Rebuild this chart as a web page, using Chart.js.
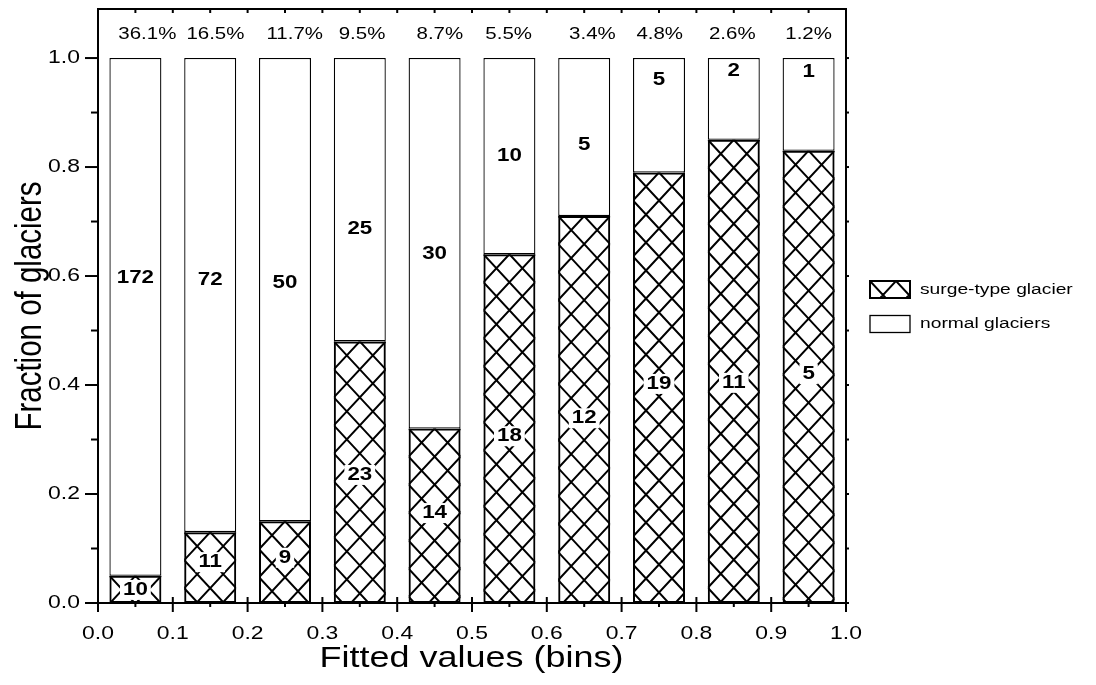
<!DOCTYPE html>
<html>
<head>
<meta charset="utf-8">
<title>Fraction of surge-type glaciers by fitted value</title>
<script src="https://cdn.jsdelivr.net/npm/chart.js@4.4.1/dist/chart.umd.min.js"></script>
<style>
  html, body { margin: 0; padding: 0; background: #fff; }
  #wrap { width: 1096px; height: 685px; }
</style>
</head>
<body>
<div id="wrap"><canvas id="chart" width="1096" height="685"></canvas></div>
<script>
// ---- data ----
const binCenters     = [0.05, 0.15, 0.25, 0.35, 0.45, 0.55, 0.65, 0.75, 0.85, 0.95];
const surgeFraction  = [0.05, 0.13, 0.15, 0.48, 0.32, 0.64, 0.71, 0.79, 0.85, 0.83];
const normalFraction = [0.95, 0.87, 0.85, 0.52, 0.68, 0.36, 0.29, 0.21, 0.15, 0.17];
const surgeCount     = [10, 11, 9, 23, 14, 18, 12, 19, 11, 5];
const normalCount    = [172, 72, 50, 25, 30, 10, 5, 5, 2, 1];
const binShare       = ['36.1%', '16.5%', '11.7%', '9.5%', '8.7%', '5.5%', '3.4%', '4.8%', '2.6%', '1.2%'];
const xTickValues    = [0.0, 0.1, 0.2, 0.3, 0.4, 0.5, 0.6, 0.7, 0.8, 0.9, 1.0];
const xMinorValues   = [0.05, 0.15, 0.25, 0.35, 0.45, 0.55, 0.65, 0.75, 0.85, 0.95];
const yTickValues    = [0.0, 0.2, 0.4, 0.6, 0.8, 1.0];
const yMinorValues   = [0.1, 0.3, 0.5, 0.7, 0.9];

// ---- label placement (axis units) ----
const normalLabelY = [0.596, 0.593, 0.587, 0.686, 0.640, 0.820, 0.840, 0.960, 0.976, 0.974];
const surgeLabelY  = [0.024, 0.075, 0.083, 0.235, 0.165, 0.306, 0.339, 0.402, 0.404, 0.420];
const shareLabelX  = [0.066, 0.157, 0.263, 0.353, 0.457, 0.549, 0.661, 0.751, 0.848, 0.950];

// ---- styling ----
const FONT = "'Liberation Sans', Arial, Helvetica, sans-serif";
const STRETCH = 1.24;      // horizontal text stretch
const HATCH_DY = 28;       // vertical period of the cross-hatch
const INK = '#000';

function drawText(ctx, s, x, y, size, opt = {}) {
  ctx.save();
  ctx.translate(x, y);
  ctx.scale(STRETCH, 1);
  if (opt.rot) ctx.rotate(opt.rot);
  ctx.font = (opt.bold ? 'bold ' : '') + size + 'px ' + FONT;
  ctx.textAlign = opt.align || 'center';
  ctx.textBaseline = 'middle';
  ctx.fillStyle = INK;
  ctx.fillText(s, 0, 0);
  ctx.restore();
}

function textWidth(ctx, s, size, bold) {
  ctx.save();
  ctx.font = (bold ? 'bold ' : '') + size + 'px ' + FONT;
  const w = ctx.measureText(s).width * STRETCH;
  ctx.restore();
  return w;
}

// diagonal cross-hatch anchored at the rectangle's top-left corner
function hatchRect(ctx, left, top, w, h, px, py) {
  if (h <= 0) return;
  const s = py / px;
  ctx.save();
  ctx.beginPath();
  ctx.rect(left, top, w, h);
  ctx.clip();
  ctx.beginPath();
  const span = Math.ceil(s * w / py) + 2;
  const rows = Math.ceil(h / py) + 2;
  for (let n = -span; n <= rows; n++) {
    ctx.moveTo(left, top + n * py);
    ctx.lineTo(left + w, top + s * w + n * py);
  }
  for (let n = -2; n <= rows + span; n++) {
    ctx.moveTo(left, top + n * py);
    ctx.lineTo(left + w, top - s * w + n * py);
  }
  ctx.lineWidth = 2;
  ctx.strokeStyle = INK;
  ctx.stroke();
  ctx.restore();
}

function line(ctx, x1, y1, x2, y2, lw) {
  ctx.beginPath();
  ctx.moveTo(x1, y1);
  ctx.lineTo(x2, y2);
  ctx.lineWidth = lw;
  ctx.strokeStyle = INK;
  ctx.stroke();
}

const decor = {
  id: 'decor',
  beforeDatasetsDraw(chart) {
    const ctx = chart.ctx;
    chart.getDatasetMeta(0).data.forEach(el => {
      const p = el.getProps(['x', 'y', 'base', 'width'], true);
      const left = p.x - p.width / 2;
      hatchRect(ctx, left, p.y, p.width, p.base - p.y, p.width / 2, HATCH_DY);
    });
  },
  afterDatasetsDraw(chart) {
    const ctx = chart.ctx;
    const { left, right, top, bottom } = chart.chartArea;
    const xs = chart.scales.x, ys = chart.scales.y;

    ctx.save();
    ctx.lineCap = 'butt';

    // frame
    ctx.beginPath();
    ctx.rect(left, top, right - left, bottom - top);
    ctx.lineWidth = 2;
    ctx.strokeStyle = INK;
    ctx.stroke();

    // y axis ticks and labels
    yTickValues.forEach(v => {
      const y = ys.getPixelForValue(v);
      line(ctx, left - 13, y, left, y, 2);
      line(ctx, right, y, right + 3, y, 2);
      drawText(ctx, v.toFixed(1), left - 18, y, 18.5, { align: 'right' });
    });
    yMinorValues.forEach(v => {
      const y = ys.getPixelForValue(v);
      line(ctx, left - 7, y, left, y, 2);
      line(ctx, right, y, right + 3, y, 2);
    });

    // x axis ticks and labels
    xTickValues.forEach(v => {
      const x = xs.getPixelForValue(v);
      line(ctx, x, bottom - 6, x, bottom + 9, 2);
      line(ctx, x, top, x, top + 4, 2);
      drawText(ctx, v.toFixed(1), x, bottom + 31, 18.5);
    });
    xMinorValues.forEach(v => {
      const x = xs.getPixelForValue(v);
      line(ctx, x, bottom, x, bottom + 4, 2);
      line(ctx, x, top, x, top + 4, 2);
    });

    // share of all glaciers in each bin
    binShare.forEach((s, i) => {
      drawText(ctx, s, xs.getPixelForValue(shareLabelX[i]), top + 25.5, 16.5);
    });

    // counts of normal glaciers
    normalCount.forEach((n, i) => {
      drawText(ctx, String(n), xs.getPixelForValue(binCenters[i]), ys.getPixelForValue(normalLabelY[i]), 18, { bold: true });
    });

    // counts of surge-type glaciers, on a white patch over the hatch
    surgeCount.forEach((n, i) => {
      const x = xs.getPixelForValue(binCenters[i]);
      const y = ys.getPixelForValue(surgeLabelY[i]);
      const w = textWidth(ctx, String(n), 18, true) + 6;
      ctx.fillStyle = '#fff';
      ctx.fillRect(x - w / 2, y - 10, w, 20);
      drawText(ctx, String(n), x, y, 18, { bold: true });
    });

    // legend
    const lx = 870, lw = 40;
    ctx.fillStyle = '#fff';
    ctx.fillRect(lx, 281, lw, 17);
    hatchRect(ctx, lx, 281, lw, 17, 26, HATCH_DY);
    ctx.strokeStyle = INK;
    ctx.lineWidth = 2;
    ctx.strokeRect(lx, 281, lw, 17);
    ctx.lineWidth = 1.3;
    ctx.strokeRect(lx, 315.5, lw, 17);
    drawText(ctx, chart.data.datasets[0].label, 920, 289.5, 15.5, { align: 'left' });
    drawText(ctx, chart.data.datasets[1].label, 920, 323.5, 15.5, { align: 'left' });

    // axis titles
    drawText(ctx, 'Fitted values (bins)', (left + right) / 2 - 0.5, 659, 29);
    drawText(ctx, 'Fraction of glaciers', 31, (top + bottom) / 2, 29.5, { rot: -Math.PI / 2 });

    ctx.restore();
  }
};

new Chart(document.getElementById('chart'), {
  type: 'bar',
  data: {
    datasets: [
      {
        label: 'surge-type glacier',
        data: binCenters.map((x, i) => ({ x, y: surgeFraction[i] })),
        backgroundColor: 'rgba(255,255,255,0)',
        borderColor: INK,
        borderWidth: 2,
        borderSkipped: false,
        barPercentage: 0.695,
        categoryPercentage: 1
      },
      {
        label: 'normal glaciers',
        data: binCenters.map((x, i) => ({ x, y: normalFraction[i] })),
        backgroundColor: '#fff',
        borderColor: INK,
        borderWidth: 1.3,
        borderSkipped: false,
        barPercentage: 0.695,
        categoryPercentage: 1
      }
    ]
  },
  options: {
    responsive: false,
    animation: false,
    devicePixelRatio: 1,
    layout: { padding: { left: 98, top: 9, right: 250, bottom: 82 } },
    scales: {
      x: {
        type: 'linear', min: 0, max: 1, offset: false, stacked: true,
        ticks: { display: false, stepSize: 0.1 },
        grid: { display: false, drawTicks: false, tickLength: 0 }, border: { display: false }
      },
      y: {
        type: 'linear', min: 0, max: 1.09, stacked: true,
        ticks: { display: false },
        grid: { display: false, drawTicks: false, tickLength: 0 }, border: { display: false }
      }
    },
    plugins: { legend: { display: false }, tooltip: { enabled: false } }
  },
  plugins: [decor]
});
</script>
</body>
</html>
